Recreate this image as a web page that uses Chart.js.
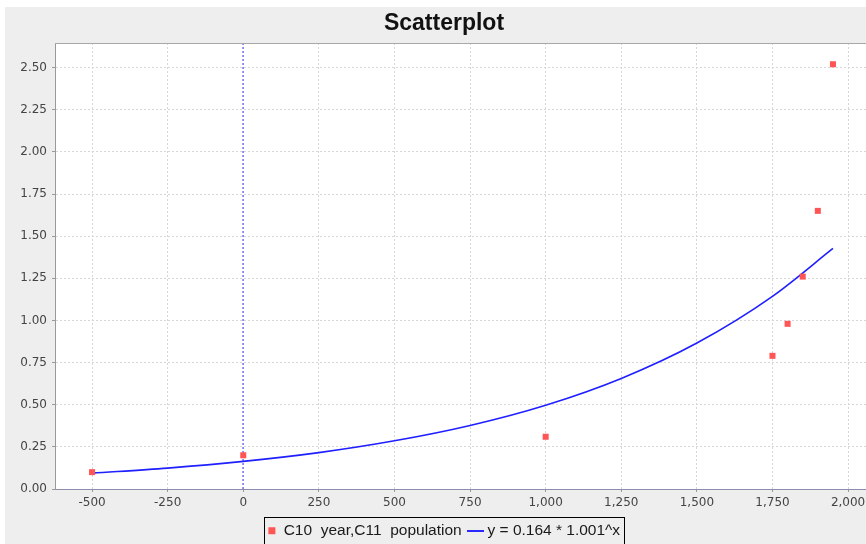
<!DOCTYPE html>
<html>
<head>
<meta charset="utf-8">
<title>Scatterplot</title>
<script src="https://cdn.jsdelivr.net/npm/chart.js@4/dist/chart.umd.min.js"></script>
<style>
  html, body { margin: 0; padding: 0; background: #ffffff; overflow: hidden; }
  #panel { position: absolute; left: 5px; top: 7px; width: 878px; height: 545px; background: #eeeeee; }
  #panel canvas { display: block; }
</style>
</head>
<body>
<div id="panel"><canvas id="chart"></canvas></div>
<script>
// World population (billions) by year
const years = [-500, 0, 1000, 1750, 1800, 1850, 1900, 1950];
const population = [0.10, 0.20, 0.31, 0.79, 0.98, 1.26, 1.65, 2.52];

// Exponential trend curve, sampled along the year axis
const fitYears = [-500, -250, 0, 250, 500, 750, 1000, 1250, 1500, 1750, 1950];
const fitValues = [0.094, 0.124, 0.164, 0.216, 0.286, 0.377, 0.497, 0.656, 0.866, 1.143, 1.427];

// Axis ticks and ranges
const xTicks = [-500, -250, 0, 250, 500, 750, 1000, 1250, 1500, 1750, 2000];
const yTicks = [0, 0.25, 0.5, 0.75, 1.0, 1.25, 1.5, 1.75, 2.0, 2.25, 2.5];
const xRange = [-622.5, 2072.5];
const yRange = [0, 2.646];
const xMarker = 0;

const chartTitle = 'Scatterplot';
const pointsLabel = 'C10  year,C11  population';
const curveLabel = 'y = 0.164 * 1.001^x';

// Small legend swatch for the curve: a short horizontal blue stroke
const curveSwatch = document.createElement('canvas');
curveSwatch.width = 17;
curveSwatch.height = 2;
(function () {
  const g = curveSwatch.getContext('2d');
  g.fillStyle = '#2a2aff';
  g.fillRect(0, 0, 17, 2);
})();

// White plot background, vertical marker at x = 0, plot outline and boxed legend
const plotFrame = {
  id: 'plotFrame',
  beforeDraw(chart) {
    const { ctx, chartArea: a } = chart;
    ctx.save();
    ctx.fillStyle = '#ffffff';
    ctx.fillRect(a.left, a.top, a.right - a.left, a.bottom - a.top);
    ctx.restore();
  },
  beforeDatasetsDraw(chart) {
    const { ctx, chartArea: a } = chart;
    const px = Math.round(chart.scales.x.getPixelForValue(xMarker));
    ctx.save();
    ctx.strokeStyle = '#3a3aff';
    ctx.lineWidth = 1;
    ctx.setLineDash([2, 2]);
    ctx.beginPath();
    ctx.moveTo(px, a.top);
    ctx.lineTo(px, a.bottom);
    ctx.stroke();
    ctx.restore();
  },
  afterDraw(chart) {
    const { ctx, chartArea: a } = chart;
    ctx.save();
    ctx.strokeStyle = '#a8a8a8';
    ctx.lineWidth = 1;
    ctx.beginPath();
    ctx.moveTo(a.left, a.top + 0.5);
    ctx.lineTo(a.right - 0.5, a.top + 0.5);
    ctx.lineTo(a.right - 0.5, a.bottom);
    ctx.stroke();

    const lg = chart.legend;
    const boxes = lg && lg.legendHitBoxes;
    if (boxes && boxes.length) {
      const first = boxes[0];
      const last = boxes[boxes.length - 1];
      const left = Math.round(first.left - 4) + 0.5;
      const right = Math.round(last.left + last.width + 4) + 0.5;
      const top = Math.round(first.top - 6) + 0.5;
      ctx.strokeStyle = '#000000';
      ctx.strokeRect(left, top, right - left, 60);
    }
    ctx.restore();
  }
};

const tickFont = { family: 'DejaVu Sans', size: 12 };
const gridColor = '#d6d6d6';

new Chart(document.getElementById('chart'), {
  type: 'scatter',
  data: {
    datasets: [
      {
        label: pointsLabel,
        data: years.map((x, i) => ({ x: x, y: population[i] })),
        backgroundColor: '#ff5555',
        borderColor: '#ff5555',
        borderWidth: 0,
        pointStyle: 'rect',
        pointRadius: 4.25,
        pointHoverRadius: 4.25
      },
      {
        label: curveLabel,
        data: fitYears.map((x, i) => ({ x: x, y: fitValues[i] })),
        showLine: true,
        borderColor: '#1f1fff',
        backgroundColor: '#1f1fff',
        borderWidth: 1.6,
        cubicInterpolationMode: 'monotone',
        pointRadius: 0,
        pointHoverRadius: 0,
        pointStyle: curveSwatch
      }
    ]
  },
  options: {
    responsive: true,
    maintainAspectRatio: false,
    animation: false,
    events: [],
    layout: { padding: { left: 0, right: 0, top: 0, bottom: 3.5 } },
    plugins: {
      tooltip: { enabled: false },
      title: {
        display: true,
        text: chartTitle,
        color: '#111111',
        font: { family: 'Liberation Sans', size: 23, weight: 'bold', lineHeight: 1.2 },
        padding: { top: 3, bottom: 5.4 }
      },
      legend: {
        display: true,
        position: 'bottom',
        labels: {
          color: '#1a1a1a',
          font: { family: 'Liberation Sans', size: 15.5 },
          usePointStyle: true,
          boxWidth: 8,
          boxHeight: 7,
          padding: 10,
          generateLabels(chart) {
            const items = Chart.defaults.plugins.legend.labels.generateLabels(chart);
            items.forEach(it => {
              if (it.datasetIndex === 1) it.pointStyle = curveSwatch;
              else it.lineWidth = 0;
            });
            return items;
          }
        }
      }
    },
    scales: {
      x: {
        type: 'linear',
        position: 'bottom',
        min: xRange[0],
        max: xRange[1],
        afterBuildTicks(scale) { scale.ticks = xTicks.map(v => ({ value: v })); },
        afterFit(scale) { scale.height = 24; },
        ticks: {
          color: '#444444',
          font: tickFont,
          padding: 4,
          maxRotation: 0,
          autoSkip: false,
          callback: v => Number(v).toLocaleString('en-US')
        },
        grid: {
          color: gridColor,
          lineWidth: 1,
          tickColor: '#999999',
          tickLength: 3,
          tickBorderDash: []
        },
        border: { display: true, color: '#8c8cae', width: 1, dash: [2, 2] }
      },
      y: {
        type: 'linear',
        position: 'left',
        min: yRange[0],
        max: yRange[1],
        afterBuildTicks(scale) { scale.ticks = yTicks.map(v => ({ value: v })); },
        afterFit(scale) { scale.width = 50; },
        ticks: {
          color: '#444444',
          font: tickFont,
          padding: 5,
          autoSkip: false,
          callback: v => Number(v).toFixed(2)
        },
        grid: {
          color: gridColor,
          lineWidth: 1,
          tickColor: '#999999',
          tickLength: 3,
          tickBorderDash: []
        },
        border: { display: true, color: '#999999', width: 1, dash: [2, 2] }
      },
      yRight: {
        type: 'linear',
        position: 'right',
        display: true,
        afterFit(scale) { scale.width = 13; },
        ticks: { display: false },
        grid: { display: false, drawTicks: false },
        border: { display: false }
      }
    }
  },
  plugins: [plotFrame]
});
</script>
</body>
</html>
